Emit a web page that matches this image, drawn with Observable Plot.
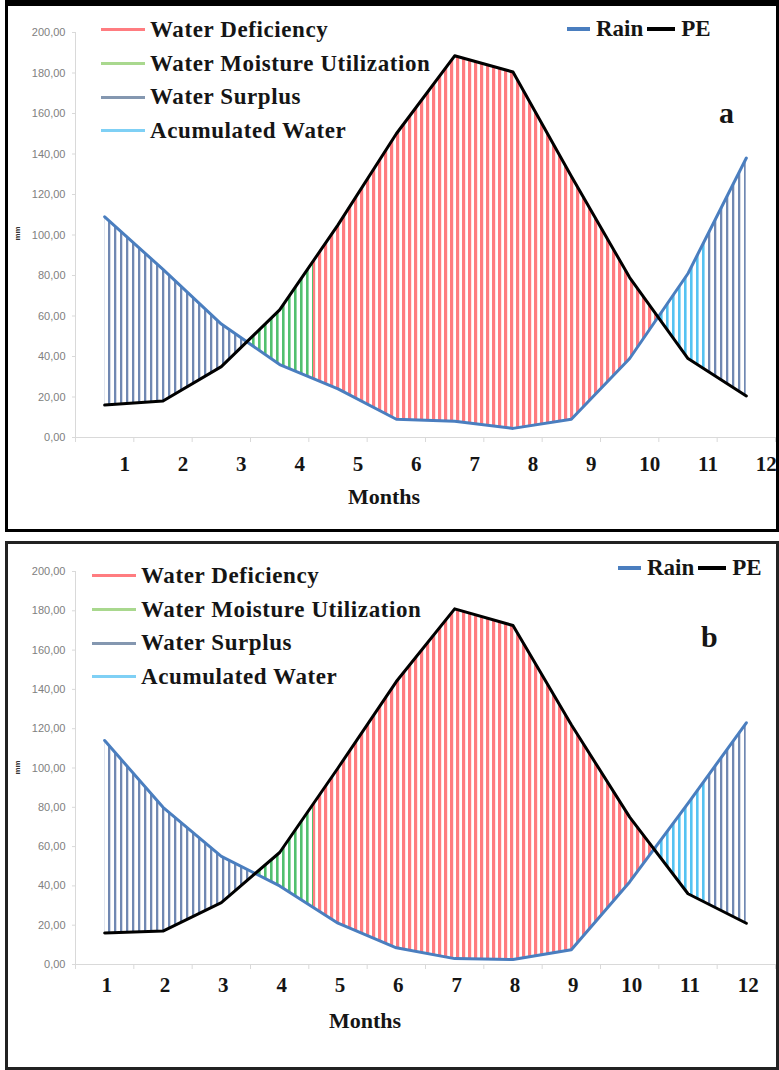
<!DOCTYPE html>
<html><head><meta charset="utf-8">
<script src="https://cdn.jsdelivr.net/npm/d3@7"></script>
<script src="https://cdn.jsdelivr.net/npm/@observablehq/plot@0.6"></script>
<style>
html,body{margin:0;padding:0;background:#fff;}
#page{position:relative;width:779px;height:1070px;overflow:hidden;background:#fff;}
.frame{position:absolute;box-sizing:border-box;pointer-events:none;}
.lg{position:absolute;font-family:"Liberation Serif",serif;font-weight:bold;font-size:23px;color:#151515;letter-spacing:0.6px;}
.row{display:flex;align-items:center;height:33.7px;white-space:nowrap;}
.hrow{display:flex;align-items:center;white-space:nowrap;height:34px;letter-spacing:0;}
.sw{display:inline-block;height:3px;}
.txt{position:absolute;font-family:"Liberation Serif",serif;font-weight:bold;color:#151515;white-space:nowrap;}
.mm{position:absolute;font-family:"Liberation Sans",sans-serif;font-weight:bold;font-size:8px;color:#333;transform:rotate(-90deg);transform-origin:center;}
</style></head><body><div id="page"></div>
<script>
// ---- data ----
const months = [1,2,3,4,5,6,7,8,9,10,11,12];
const rainA = [109, 83, 56, 36, 24, 9, 8, 4.5, 9, 39, 81, 138];
const peA   = [16, 18, 35, 63, 105, 150, 188.5, 180.5, 129, 79, 39, 20.5];
const rainB = [114, 80, 55, 40, 21, 8.5, 3, 2.5, 7.5, 42, 82, 123];
const peB   = [16, 17, 31.5, 57, 100, 144, 181, 172.5, 122, 75, 36, 21];
const yTicks = [0,20,40,60,80,100,120,140,160,180,200];
const bandEdges = [0.5,1.5,2.5,3.5,4.5,5.5,6.5,7.5,8.5,9.5,10.5,11.5,12.5];
const categories = ["Water Deficiency","Water Moisture Utilization","Water Surplus","Acumulated Water"];
const stripeColors = ["#ff7c80","#52c06e","#7088b2","#55c3f2"];
const legendColors = ["#ff7c80","#a9d88e","#8497b0","#7fd0f5"];
const seriesNames = ["Rain","PE"];
const seriesColors = ["#4a7ebf","#000000"];
// segments of the hatched area (category index, from month, to month)
const segCatA  = [2, 1, 0, 3, 2];
const segFromA = [1, 3.44, 4.58, 10.49, 11.33];
const segToA   = [3.44, 4.58, 10.49, 11.33, 12];
const segCatB  = [2, 1, 0, 3, 2];
const segFromB = [1, 3.6, 4.58, 10.42, 11.35];
const segToB   = [3.6, 4.58, 10.42, 11.35, 12];

const page = document.getElementById("page");
const ns = "http://www.w3.org/2000/svg";
const fmt = d => d.toFixed(2).replace(".", ",");
const stripeW = [3.2, 2.6, 2.3, 2.6];

function panel(cfg) {
  const data = months.map((m, i) => ({month: m, rain: cfg.rain[i], pe: cfg.pe[i]}));
  const chart = Plot.plot({
    width: 779, height: cfg.height,
    marginLeft: 75, marginRight: 4, marginTop: cfg.marginTop, marginBottom: cfg.marginBottom,
    x: {domain: [0.5, 12.5], axis: null},
    y: {domain: [0, 200], axis: null},
    style: {background: "transparent", overflow: "visible"},
    marks: [
      ...cfg.segCat.map((c, i) => Plot.areaY(data, {
        x: "month", y1: "rain", y2: "pe",
        fill: `url(#${cfg.id}-pat-${c})`,
        ariaDescription: `${cfg.id}-seg-${i}`
      })),
      Plot.ruleX([0.5], {y1: 0, y2: 200, stroke: "#d9d9d9"}),
      Plot.ruleY([0], {x1: 0.5, x2: 12.5, stroke: "#d9d9d9"}),
      Plot.axisX(bandEdges, {tickSize: 5, stroke: "#d9d9d9", tickFormat: () => "", label: null}),
      Plot.axisX(months, {tickSize: 0, tickPadding: cfg.pad, dx: cfg.dx, fontSize: 21, fontWeight: "bold",
        fontFamily: "Liberation Serif", fill: "#151515", label: null, tickFormat: d => String(d)}),
      Plot.axisY(yTicks, {tickSize: 3, tickPadding: 7, stroke: "#d9d9d9", fill: "#808080", fontSize: 11,
        fontFamily: "Liberation Sans", tickFormat: fmt, label: null}),
      Plot.line(data, {x: "month", y: "rain", stroke: seriesColors[0], strokeWidth: 3}),
      Plot.line(data, {x: "month", y: "pe", stroke: seriesColors[1], strokeWidth: 3})
    ]
  });
  const xs = chart.scale("x");
  const defs = document.createElementNS(ns, "defs");
  chart.insertBefore(defs, chart.firstChild);
  categories.forEach((c, k) => {
    const p = document.createElementNS(ns, "pattern");
    p.setAttribute("id", `${cfg.id}-pat-${k}`);
    p.setAttribute("patternUnits", "userSpaceOnUse");
    p.setAttribute("width", "6"); p.setAttribute("height", "20");
    const r = document.createElementNS(ns, "rect");
    r.setAttribute("x", "0"); r.setAttribute("y", "0");
    r.setAttribute("width", stripeW[k]); r.setAttribute("height", "20");
    r.setAttribute("fill", stripeColors[k]);
    p.appendChild(r); defs.appendChild(p);
  });
  cfg.segCat.forEach((c, i) => {
    const cp = document.createElementNS(ns, "clipPath");
    cp.setAttribute("id", `${cfg.id}-clip-${i}`);
    const r = document.createElementNS(ns, "rect");
    const x0 = xs.apply(cfg.segFrom[i]), x1 = xs.apply(cfg.segTo[i]);
    r.setAttribute("x", x0); r.setAttribute("y", 0);
    r.setAttribute("width", x1 - x0); r.setAttribute("height", cfg.height);
    cp.appendChild(r); defs.appendChild(cp);
    const g = chart.querySelector(`g[aria-description="${cfg.id}-seg-${i}"]`);
    if (g) g.setAttribute("clip-path", `url(#${cfg.id}-clip-${i})`);
  });
  chart.style.position = "absolute";
  chart.style.left = "0px";
  chart.style.top = cfg.top + "px";
  page.appendChild(chart);

  // legend (left)
  const lg = document.createElement("div");
  lg.className = "lg";
  lg.style.left = cfg.lgLeft + "px"; lg.style.top = cfg.lgTop + "px";
  categories.forEach((c, k) => {
    const row = document.createElement("div"); row.className = "row";
    const sw = document.createElement("span"); sw.className = "sw";
    sw.style.width = "44px"; sw.style.marginRight = "5px"; sw.style.background = legendColors[k];
    const t = document.createElement("span"); t.textContent = c;
    row.appendChild(sw); row.appendChild(t); lg.appendChild(row);
  });
  page.appendChild(lg);

  // legend (right)
  const lr = document.createElement("div");
  lr.className = "lg"; lr.style.left = cfg.lrLeft + "px"; lr.style.top = cfg.lrTop + "px";
  const hr = document.createElement("div"); hr.className = "hrow";
  seriesNames.forEach((s, k) => {
    const sw = document.createElement("span"); sw.className = "sw";
    sw.style.width = (k === 0 ? 23 : 28) + "px"; sw.style.height = "4px";
    sw.style.background = seriesColors[k]; sw.style.marginRight = "6px";
    const t = document.createElement("span"); t.textContent = s; t.style.marginRight = "4px";
    hr.appendChild(sw); hr.appendChild(t);
  });
  lr.appendChild(hr); page.appendChild(lr);

  // panel letter
  const L = document.createElement("div"); L.className = "txt";
  L.textContent = cfg.letter; L.style.fontSize = "30px"; L.style.lineHeight = "30px";
  L.style.left = cfg.letterX + "px"; L.style.top = cfg.letterY + "px";
  page.appendChild(L);

  // x title
  const M = document.createElement("div"); M.className = "txt";
  M.textContent = "Months"; M.style.fontSize = "22px"; M.style.lineHeight = "24px";
  M.style.left = cfg.monthsX + "px"; M.style.top = cfg.monthsY + "px";
  M.style.transform = "translate(-50%,-50%)";
  page.appendChild(M);

  // y title
  const Y = document.createElement("div"); Y.className = "mm";
  Y.textContent = "mm"; Y.style.left = "10px"; Y.style.top = cfg.mmY + "px";
  page.appendChild(Y);

  // frame
  const F = document.createElement("div"); F.className = "frame";
  Object.assign(F.style, cfg.frame);
  page.appendChild(F);
}

panel({id: "a", top: 0, height: 532, marginTop: 32, marginBottom: 95,
  rain: rainA, pe: peA, segCat: segCatA, segFrom: segFromA, segTo: segToA,
  pad: 19, dx: 20, lgLeft: 101, lgTop: 13, lrLeft: 567, lrTop: 12,
  letter: "a", letterX: 719, letterY: 98, monthsX: 384, monthsY: 497, mmY: 229,
  frame: {left: "5px", top: "0px", width: "774px", height: "532px",
    borderTop: "6px solid #000", borderLeft: "3px solid #000", borderBottom: "3px solid #000", borderRight: "3px solid #000"}});

panel({id: "b", top: 540, height: 530, marginTop: 31, marginBottom: 106,
  rain: rainB, pe: peB, segCat: segCatB, segFrom: segFromB, segTo: segToB,
  pad: 13, dx: 2, lgLeft: 92, lgTop: 559, lrLeft: 618, lrTop: 551,
  letter: "b", letterX: 701, letterY: 622, monthsX: 365, monthsY: 1021, mmY: 763,
  frame: {left: "5px", top: "541px", width: "774px", height: "529px",
    border: "3px solid #222"}});
</script></body></html>
